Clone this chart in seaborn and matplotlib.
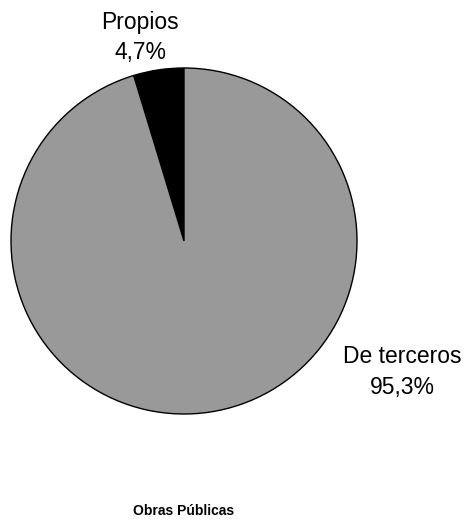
import matplotlib
matplotlib.use("Agg")
import matplotlib.pyplot as plt
import seaborn as sns

categories = ["Propios", "De terceros"]
shares = [4.7, 95.3]
colors = ["#000000", "#999999"]
title = "Obras Públicas"

sns.set_style("white")
plt.rcParams["font.family"] = ["Liberation Sans", "DejaVu Sans"]
plt.rcParams["text.color"] = "black"

fig = plt.figure(figsize=(4.68, 5.2), dpi=100)
ax = fig.add_axes([11 / 468, 106 / 520, 346 / 468, 346 / 520])

ax.pie(shares, colors=colors, startangle=90, counterclock=True,
       wedgeprops=dict(edgecolor="black", linewidth=1))
ax.set_xlim(-1, 1)
ax.set_ylim(-1, 1)
ax.set_aspect("equal")
ax.axis("off")

# labels: "name\nvalue%" with decimal comma
label_pos = [(-0.254, 1.175), (1.26, -0.757)]
for name, val, (x, y) in zip(categories, shares, label_pos):
    ax.text(x, y, f"{name}\n{val:.1f}%".replace(".", ","), ha="center", va="center",
            fontsize=16.5, linespacing=1.4, color="black", clip_on=False)

fig.text(184 / 468, 1 - 511 / 520, title, ha="center", va="center",
         fontsize=10, fontweight="bold", color="black")

fig.savefig("out.png", dpi=100)
